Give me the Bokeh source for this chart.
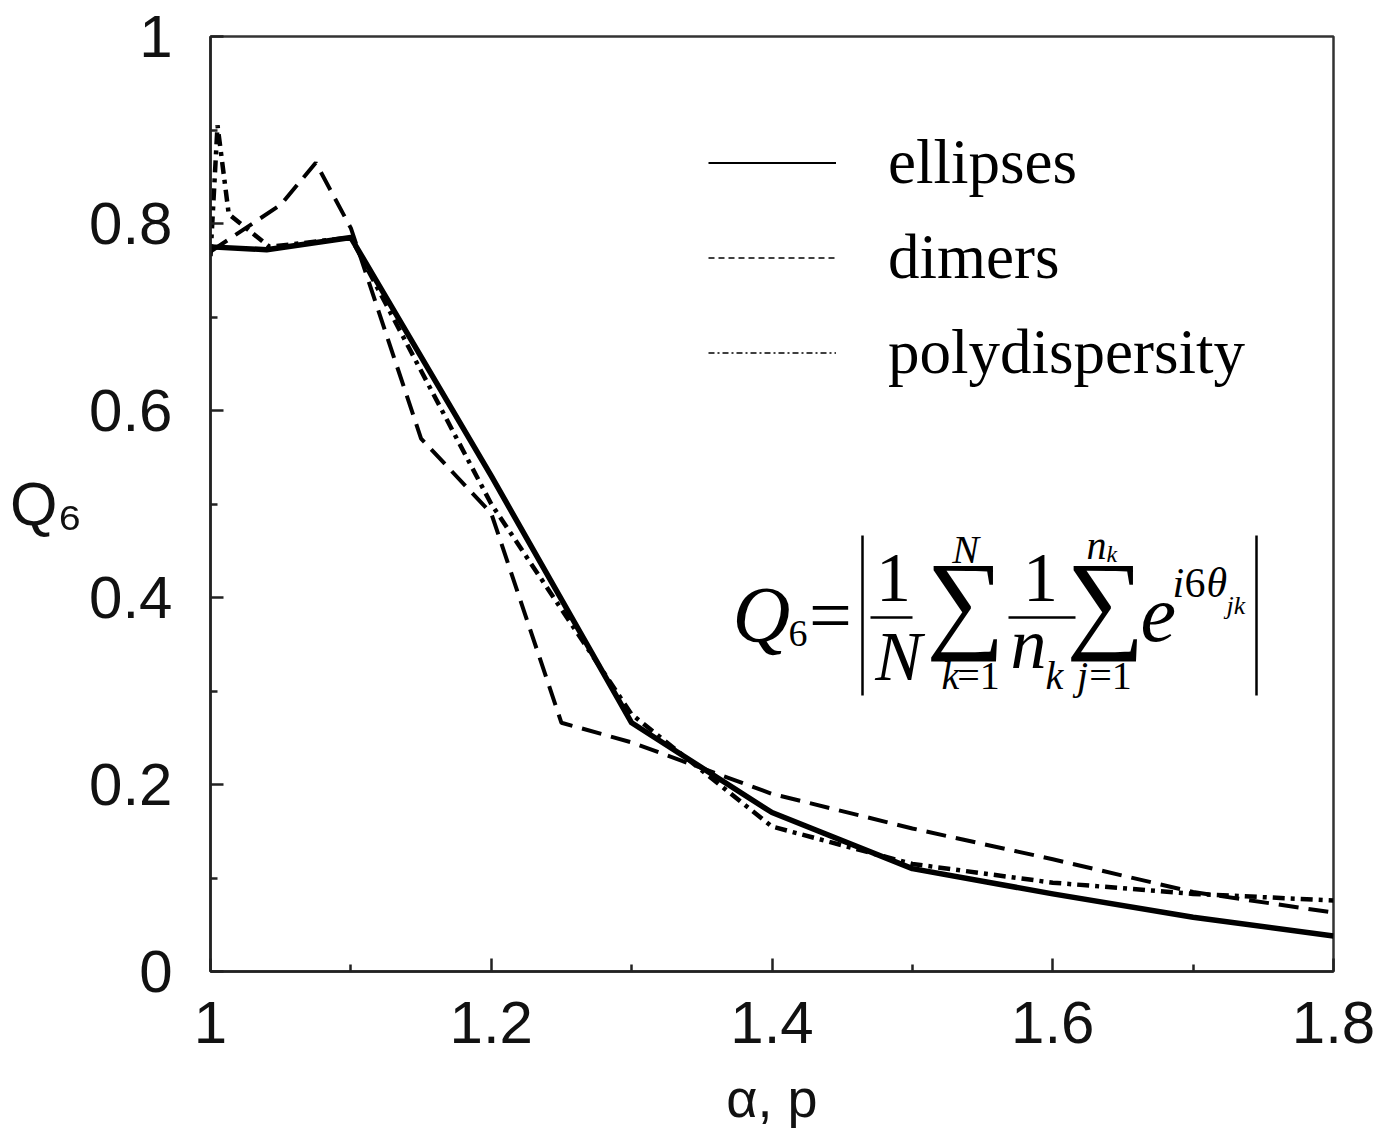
from bokeh.plotting import figure
from bokeh.models import Range1d, FixedTicker, Label, Legend, LegendItem, ColumnDataSource
from bokeh.embed import file_html
from bokeh.resources import INLINE

# ---------------- data ----------------
ell_x = [1.0, 1.04, 1.1, 1.2, 1.3, 1.4, 1.5, 1.6, 1.7, 1.8]
ell_y = [0.775, 0.772, 0.785, 0.53, 0.266, 0.17, 0.11, 0.083, 0.058, 0.038]

dim_x = [1.0, 1.05, 1.075, 1.1, 1.15, 1.2, 1.25, 1.3, 1.4, 1.5, 1.6, 1.7, 1.8]
dim_y = [0.77, 0.82, 0.865, 0.795, 0.57, 0.49, 0.266, 0.245, 0.19, 0.153, 0.12, 0.085, 0.063]

pol_x = [1.0, 1.005, 1.013, 1.042, 1.1, 1.2, 1.3, 1.4, 1.5, 1.6, 1.7, 1.8]
pol_y = [0.765, 0.905, 0.81, 0.775, 0.785, 0.5, 0.275, 0.155, 0.115, 0.095, 0.083, 0.076]

x_ticks = [1.0, 1.2, 1.4, 1.6, 1.8]
x_tick_labels = ["1", "1.2", "1.4", "1.6", "1.8"]
x_minor = [1.1, 1.3, 1.5, 1.7]
y_ticks = [0.0, 0.2, 0.4, 0.6, 0.8, 1.0]
y_tick_labels = ["0", "0.2", "0.4", "0.6", "0.8", "1"]
y_minor = [0.1, 0.3, 0.5, 0.7, 0.9]

series_names = ["ellipses", "dimers", "polydispersity"]
x_title = "α, p"
y_title = "Q\u2086"

# ---------------- figure ----------------
W, H = 1379, 1140
FL, FR, FT, FB = 210, 1333, 36, 971  # frame edges in pixels

p = figure(width=W, height=H, output_backend="svg", toolbar_location=None,
           x_range=Range1d(1.0, 1.8), y_range=Range1d(0.0, 1.0),
           min_border_left=FL, min_border_right=W - FR,
           min_border_top=FT, min_border_bottom=H - FB)
p.background_fill_color = "white"
p.border_fill_color = "white"
p.grid.visible = False
p.outline_line_color = "#333333"
p.outline_line_width = 2.5

p.xaxis.ticker = FixedTicker(ticks=x_ticks, minor_ticks=x_minor)
p.yaxis.ticker = FixedTicker(ticks=y_ticks, minor_ticks=y_minor)
p.xaxis.major_label_overrides = {t: l for t, l in zip(x_ticks, x_tick_labels)}
p.yaxis.major_label_overrides = {t: l for t, l in zip(y_ticks, y_tick_labels)}
for ax in (p.xaxis, p.yaxis):
    ax.axis_line_color = "#222222"
    ax.axis_line_width = 2.5
    ax.major_tick_line_color = "#222222"
    ax.minor_tick_line_color = "#222222"
    ax.major_tick_line_width = 2.5
    ax.minor_tick_line_width = 2.5
    ax.major_tick_in = 13
    ax.major_tick_out = 0
    ax.minor_tick_in = 7
    ax.minor_tick_out = 0
    ax.major_label_text_font = "Liberation Sans"
    ax.major_label_text_font_size = "60px"
    ax.major_label_text_color = "#111111"
    ax.axis_label_text_font = "Liberation Sans"
    ax.axis_label_text_font_style = "normal"
    ax.axis_label_text_color = "#111111"
p.xaxis.major_label_standoff = 30
p.yaxis.major_label_standoff = 38

p.xaxis.axis_label = x_title
p.xaxis.axis_label_text_font_size = "54px"
p.xaxis.axis_label_text_line_height = 0.8
p.xaxis.axis_label_standoff = 22
p.yaxis.axis_label = y_title
p.yaxis.axis_label_orientation = "horizontal"
p.yaxis.axis_label_text_font_size = "61px"
p.yaxis.axis_label_standoff = 4

# ---------------- data lines ----------------
p.line(ell_x, ell_y, line_color="black", line_width=5.5, line_join="round")
p.line(dim_x, dim_y, line_color="black", line_width=4, line_dash="20 10")
p.line(pol_x, pol_y, line_color="black", line_width=4.5, line_dash="12 6 4 6")

# legend uses thin sample lines (proxy renderers with no visible points)
nan = float("nan")
proxy = dict(x=[nan], y=[nan])
lr1 = p.line("x", "y", source=ColumnDataSource(proxy), line_color="black", line_width=1.8)
lr2 = p.line("x", "y", source=ColumnDataSource(proxy), line_color="black", line_width=1.5, line_dash="6 4")
lr3 = p.line("x", "y", source=ColumnDataSource(proxy), line_color="black", line_width=1.5, line_dash="6 3 2 3")
legend = Legend(items=[LegendItem(label=series_names[0], renderers=[lr1], index=0),
                       LegendItem(label=series_names[1], renderers=[lr2], index=0),
                       LegendItem(label=series_names[2], renderers=[lr3], index=0)],
                location=(708 - FL, FB - 400),
                glyph_width=128, glyph_height=95, label_height=95,
                label_standoff=52, spacing=0, padding=0, margin=0,
                label_text_font="Liberation Serif", label_text_font_size="63px",
                label_text_color="black",
                border_line_color=None, background_fill_alpha=0)
p.add_layout(legend, "center")

# ---------------- formula (positions given in page pixels) ----------------
def dx(px):
    return 1.0 + (px - FL) * 0.8 / (FR - FL)

def dy(py):
    return (FB - py) / (FB - FT)

def txt(s, px, py, size, style="normal", font="Liberation Serif", align="left"):
    p.add_layout(Label(x=dx(px), y=dy(py), text=s, text_font=font, text_font_size=f"{size}px",
                       text_font_style=style, text_align=align, text_baseline="alphabetic",
                       text_color="black"))

# rules of the formula: absolute-value bars and fraction bars (page pixels)
rule_x0 = [862, 1256, 870, 1008]
rule_x1 = [862, 1256, 912, 1075]
rule_y0 = [535, 535, 617, 617]
rule_y1 = [695, 695, 617, 617]
p.segment(x0=[dx(v) for v in rule_x0], y0=[dy(v) for v in rule_y0],
          x1=[dx(v) for v in rule_x1], y1=[dy(v) for v in rule_y1],
          line_color="black", line_width=2.5)

txt("Q", 732, 614, 80, style="italic")
txt("6", 788, 633, 38)
txt("=", 830, 614, 76, align="center")
txt("1", 893, 577, 70, align="center")
txt("N", 898, 656, 70, style="italic", align="center")
txt("\u2211", 965, 600, 110, align="center")
txt("N", 965, 549, 40, style="italic", align="center")
txt("k", 950, 675, 40, style="italic", align="center")
txt("=1", 978, 675, 40, align="center")
txt("1", 1040, 577, 70, align="center")
txt("n", 1010, 643, 72, style="italic")
txt("k", 1045, 675, 40, style="italic")
txt("\u2211", 1105, 600, 110, align="center")
txt("n", 1086, 545, 40, style="italic")
txt("k", 1106, 553, 24, style="italic")
txt("j", 1082, 675, 40, style="italic", align="center")
txt("=1", 1110, 675, 40, align="center")
txt("e", 1140, 614, 80, style="italic")
txt("i", 1172, 582, 42, style="italic")
txt("6", 1184, 582, 42)
txt("θ", 1206, 582, 42, style="italic")
txt("jk", 1226, 605, 26, style="italic")

open("out.html", "w").write(file_html(p, INLINE))
